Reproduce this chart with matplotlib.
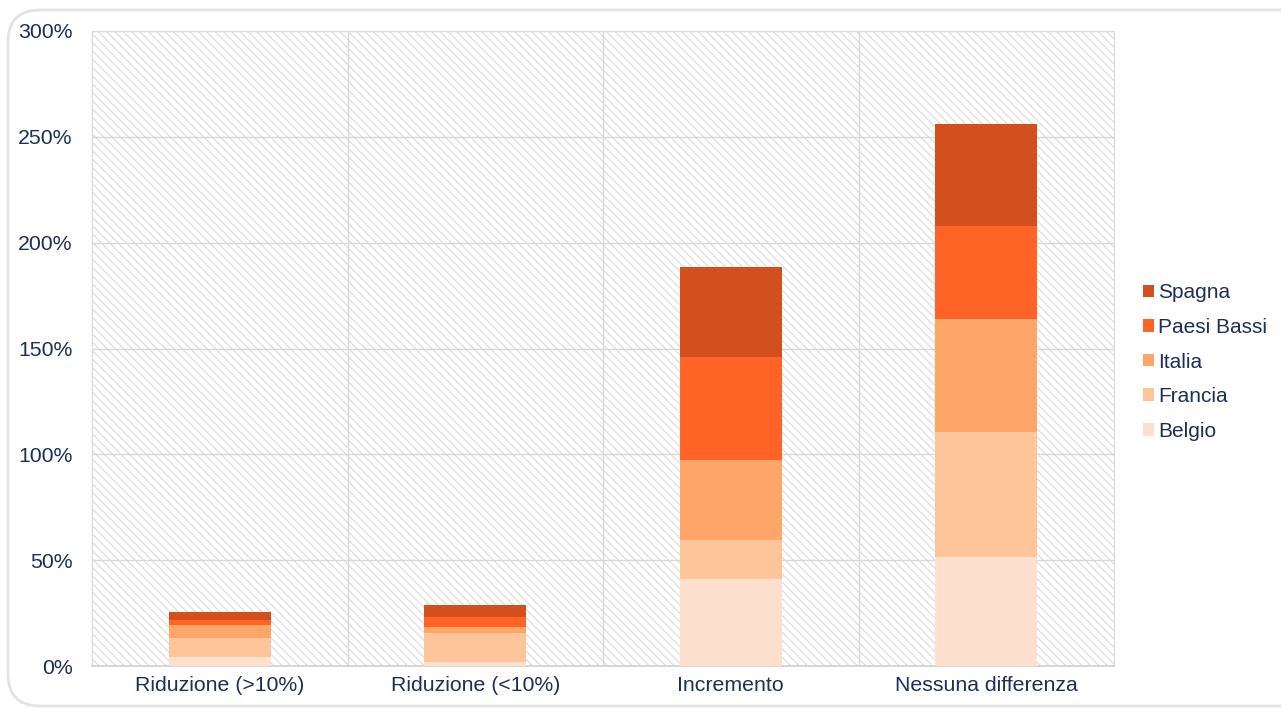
import matplotlib.pyplot as plt
import numpy as np
from matplotlib.patches import Rectangle, FancyBboxPatch
from matplotlib.ticker import FuncFormatter

# data (percent)
categorie = ["Riduzione (>10%)", "Riduzione (<10%)", "Incremento", "Nessuna differenza"]
belgio = [4.1, 1.7, 41.1, 51.5]
francia = [9.1, 13.9, 18.4, 59.2]
italia = [6.2, 3.0, 37.7, 53.1]
paesi_bassi = [2.2, 4.7, 48.6, 44.0]
spagna = [3.8, 5.5, 42.5, 48.2]

serie = [("Belgio", belgio, "#FDE1CE"),
         ("Francia", francia, "#FEC59A"),
         ("Italia", italia, "#FEA568"),
         ("Paesi Bassi", paesi_bassi, "#FF6426"),
         ("Spagna", spagna, "#D3501E")]

testo = "#1F2D5A"
plt.rcParams['font.family'] = ['Liberation Sans', 'DejaVu Sans']
plt.rcParams['hatch.linewidth'] = 0.8
plt.rcParams['hatch.color'] = '#DADADA'

fig = plt.figure(figsize=(12.81, 7.08), dpi=100)
W, H = 1281, 708

# rounded outer frame (right side runs off the picture)
fig.patches.append(FancyBboxPatch((8 / W, 2 / H), 1.2, 1.0 - 12 / H,
                                  boxstyle="round,pad=0,rounding_size=0.025",
                                  mutation_aspect=W / H,
                                  transform=fig.transFigure, facecolor='none',
                                  edgecolor='#E3E3E3', linewidth=2))

ax = fig.add_axes([92 / W, 42 / H, (1114 - 92) / W, (666 - 31) / H])
ax.set_facecolor('white')
ax.add_patch(Rectangle((0, 0), 1, 1, transform=ax.transAxes, facecolor='white',
                       hatch='\\' * 4, edgecolor='#DADADA', linewidth=0, zorder=0))

x = np.arange(len(categorie))
base = np.zeros(len(categorie))
for nome, vals, col in serie:
    ax.bar(x, vals, width=0.4, bottom=base, color=col, label=nome, zorder=3)
    base += np.array(vals)

ax.set_xlim(-0.5, 3.5)
ax.set_ylim(0, 300)
ax.set_yticks(np.arange(0, 301, 50))
ax.yaxis.set_major_formatter(FuncFormatter(lambda v, p: f"{int(v)}%"))
ax.set_xticks(x)
ax.set_xticklabels(categorie)
ax.tick_params(length=0, labelsize=15.3, labelcolor=testo)
ax.tick_params(axis='y', pad=14)
ax.tick_params(axis='x', pad=7)

ax.grid(axis='y', color='#D9D9D9', linewidth=1, zorder=1)
for xv in [0.5, 1.5, 2.5]:
    ax.axvline(xv, color='#D9D9D9', linewidth=1, zorder=1)

for s in ['top', 'left', 'right']:
    ax.spines[s].set_color('#D9D9D9')
ax.spines['bottom'].set_color('#D0D0D0')
ax.spines['bottom'].set_linewidth(1.2)

h, l = ax.get_legend_handles_labels()
leg = fig.legend(h[::-1], l[::-1], loc='center left', bbox_to_anchor=(1124 / W, 1 - 362 / H),
                 frameon=False, fontsize=15, handlelength=0.55, handleheight=0.55,
                 handletextpad=0.2, labelspacing=0.75)
for t in leg.get_texts():
    t.set_color(testo)

fig.savefig("out.png", dpi=100)
